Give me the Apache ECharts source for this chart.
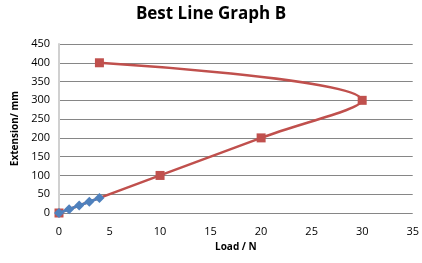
<!DOCTYPE html>
<html>
<head>
<meta charset="utf-8">
<script src="https://cdn.jsdelivr.net/npm/echarts@6/dist/echarts.min.js"></script>
<style>
  html, body { margin: 0; padding: 0; background: #fff; }
  #chart { width: 422px; height: 263px; }
</style>
</head>
<body>
<div id="chart"></div>
<script>
// data
var redLoad = [0, 10, 20, 30, 4];
var redExt = [0, 100, 200, 300, 400];
var blueLoad = [0, 1, 2, 3, 4];
var blueExt = [0, 10, 20, 30, 40];

function pairs(xs, ys) {
  var out = [];
  for (var i = 0; i < xs.length; i++) out.push([xs[i], ys[i]]);
  return out;
}

var chart = echarts.init(document.getElementById('chart'));
var font = 'Open Sans';
var option = {
  animation: false,
  backgroundColor: '#fff',
  title: {
    text: 'Best Line Graph B',
    left: 'center',
    top: 1,
    textStyle: { fontFamily: font, fontSize: 17, fontWeight: 'bold', color: '#000' }
  },
  grid: { left: 59, right: 7, top: 44, bottom: 50 },
  xAxis: {
    type: 'value',
    min: 0, max: 35, interval: 5,
    name: 'Load / N',
    nameLocation: 'middle',
    nameGap: 28,
    nameTextStyle: { fontFamily: font, fontSize: 10, fontWeight: 'bold', color: '#000' },
    axisLine: { show: false },
    axisTick: { show: false },
    splitLine: { show: false },
    axisLabel: { fontFamily: font, fontSize: 11, color: '#000', margin: 13 }
  },
  yAxis: {
    type: 'value',
    min: 0, max: 450, interval: 50,
    name: 'Extension/ mm',
    nameLocation: 'middle',
    nameGap: 38,
    nameTextStyle: { fontFamily: font, fontSize: 10, fontWeight: 'bold', color: '#000' },
    axisLine: { show: true, lineStyle: { color: '#d0d0d0', width: 2 } },
    axisTick: { show: false },
    splitLine: { show: true, lineStyle: { color: '#868686', width: 1 } },
    axisLabel: { fontFamily: font, fontSize: 11, color: '#000', margin: 9 }
  },
  series: [
    {
      type: 'line',
      data: pairs(redLoad, redExt),
      smooth: 0.4,
      symbol: 'rect',
      symbolSize: 9,
      lineStyle: { color: '#C0504D', width: 2.5 },
      itemStyle: { color: '#C0504D' },
      z: 2
    },
    {
      type: 'line',
      data: pairs(blueLoad, blueExt),
      symbol: 'diamond',
      symbolSize: 10,
      lineStyle: { color: '#4F81BD', width: 2.5 },
      itemStyle: { color: '#4F81BD' },
      z: 3
    }
  ]
};
chart.setOption(option);
</script>
</body>
</html>
